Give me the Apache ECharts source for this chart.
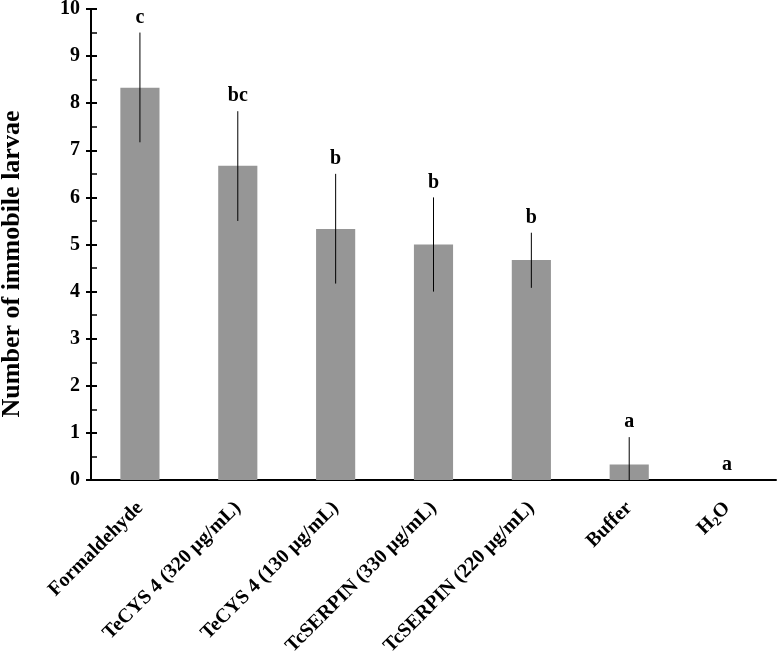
<!DOCTYPE html>
<html>
<head>
<meta charset="utf-8">
<script src="https://cdn.jsdelivr.net/npm/echarts@6/dist/echarts.min.js"></script>
<style>
  html, body { margin: 0; padding: 0; background: #fff; }
  #chart { width: 778px; height: 655px; }
</style>
</head>
<body>
<div id="chart"></div>
<script>
// treatments and mean counts
var categories = ['Formaldehyde', 'TeCYS 4 (320 µg/mL)', 'TeCYS 4 (130 µg/mL)',
                  'TcSERPIN (330 µg/mL)', 'TcSERPIN (220 µg/mL)', 'Buffer', 'H2O'];
var means = [8.33, 6.67, 5.33, 5.0, 4.67, 0.33, 0];
var errLow = [7.17, 5.5, 4.17, 4.0, 4.08, 0, 0];
var errHigh = [9.5, 7.83, 6.5, 6.0, 5.25, 0.91, 0];
var letters = ['c', 'bc', 'b', 'b', 'b', 'a', 'a'];
var yTicks = [0, 1, 2, 3, 4, 5, 6, 7, 8, 9, 10];

var font = 'Liberation Serif';

var errData = categories.map(function (c, i) {
    return [i, errLow[i], errHigh[i], letters[i]];
});

var myChart = echarts.init(document.getElementById('chart'));

var option = {
    animation: false,
    grid: { left: 91, right: 2, top: 9, bottom: 175, containLabel: false, outerBoundsMode: 'none' },
    graphic: [{
        type: 'text',
        x: 12,
        y: 264,
        rotation: Math.PI / 2,
        style: {
            text: 'Number of immobile larvae',
            align: 'center',
            verticalAlign: 'middle',
            fill: '#000',
            font: 'bold 26px "' + font + '"'
        }
    }],
    xAxis: {
        type: 'category',
        data: categories,
        axisLine: { lineStyle: { color: '#000', width: 2 } },
        axisTick: { show: false },
        axisLabel: {
            rotate: 45,
            margin: 25,
            interval: 0,
            color: '#000',
            fontFamily: font,
            fontWeight: 'bold',
            fontSize: 20,
            formatter: function (v) {
                return v === 'H2O' ? 'H{sub|2}O' : v;
            },
            rich: {
                sub: { fontFamily: font, fontWeight: 'bold', fontSize: 13, verticalAlign: 'bottom', padding: [10, 0, 0, 0] }
            }
        }
    },
    yAxis: [{
        type: 'value',
        min: yTicks[0],
        max: yTicks[yTicks.length - 1],
        interval: 1,
        axisLine: { show: true, lineStyle: { color: '#000', width: 2 } },
        axisTick: { show: true, length: 5, lineStyle: { color: '#000', width: 2 } },
        splitLine: { show: false },
        axisLabel: {
            color: '#000',
            fontFamily: font,
            fontWeight: 'bold',
            fontSize: 20,
            margin: 11
        }
    }, {
        // inner half of the major ticks plus the inward minor ticks
        type: 'value',
        position: 'left',
        min: yTicks[0],
        max: yTicks[yTicks.length - 1],
        interval: 1,
        axisLine: { show: false },
        axisTick: { show: true, inside: true, length: 6, lineStyle: { color: '#000', width: 2 } },
        minorTick: { show: true, splitNumber: 2, length: 6, lineStyle: { color: '#000', width: 1.5 } },
        axisLabel: { show: false },
        splitLine: { show: false }
    }],
    series: [
        {
            type: 'bar',
            data: means,
            barWidth: '40%',
            itemStyle: { color: '#969696' }
        },
        {
            type: 'custom',
            data: errData,
            z: 5,
            renderItem: function (params, api) {
                var x = api.value(0);
                var lo = api.coord([x, api.value(1)]);
                var hi = api.coord([x, api.value(2)]);
                var children = [];
                if (api.value(2) > api.value(1)) {
                    children.push({
                        type: 'line',
                        shape: { x1: lo[0], y1: lo[1], x2: hi[0], y2: hi[1] },
                        style: { stroke: '#000', lineWidth: 1 }
                    });
                }
                children.push({
                    type: 'text',
                    style: {
                        x: hi[0],
                        y: hi[1] - 5,
                        text: letters[params.dataIndex],
                        align: 'center',
                        verticalAlign: 'bottom',
                        fill: '#000',
                        font: 'bold 20px "' + font + '"'
                    }
                });
                return { type: 'group', children: children };
            }
        }
    ]
};

myChart.setOption(option);
</script>
</body>
</html>
